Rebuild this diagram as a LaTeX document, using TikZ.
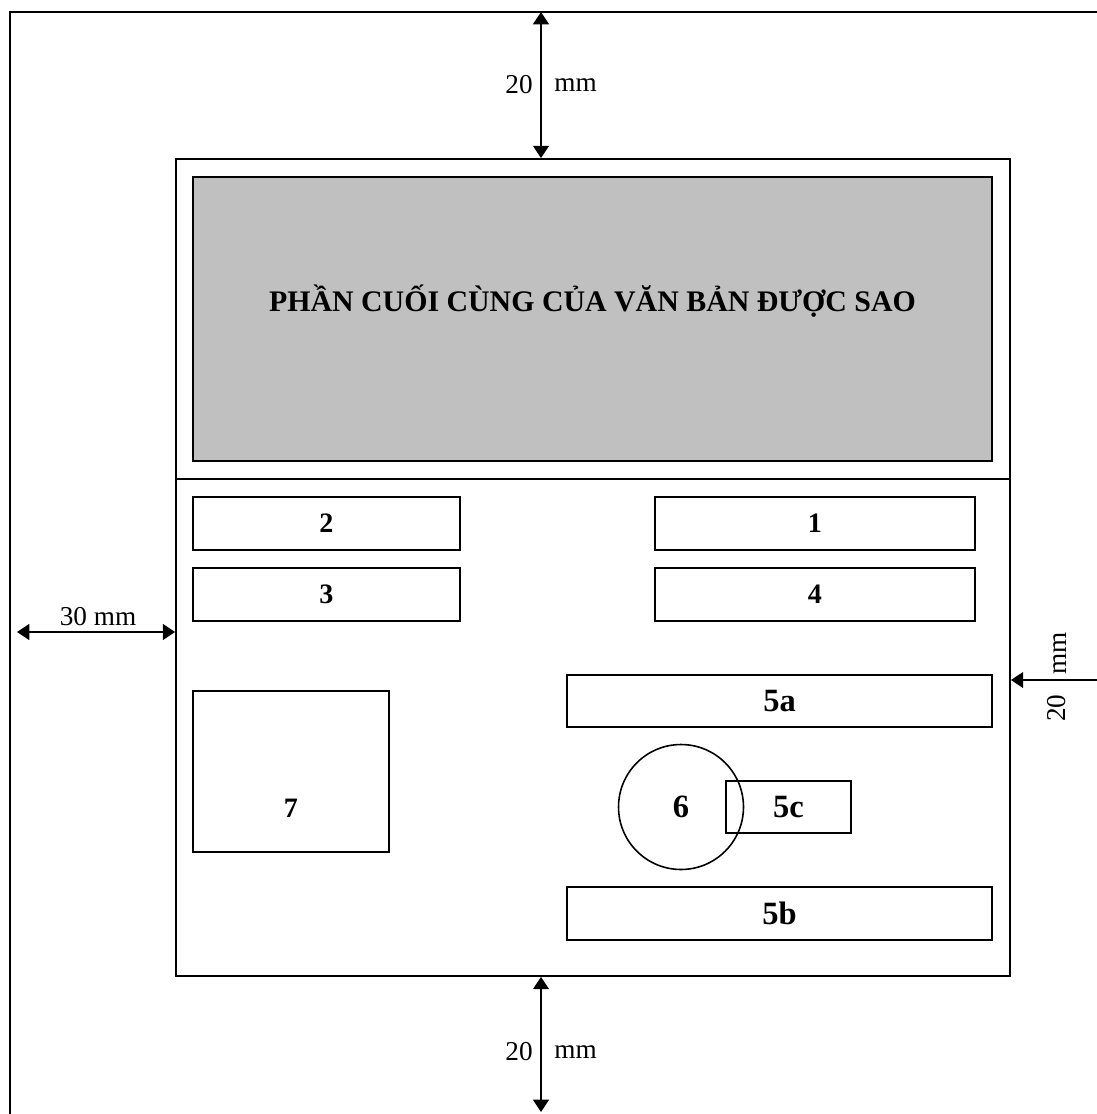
\documentclass[tikz,border=0pt]{standalone}
\usepackage{fontspec}
\setmainfont{Liberation Serif}
\usetikzlibrary{arrows.meta}

\begin{document}
\begin{tikzpicture}[
    x=0.02cm, y=-0.02cm,
    every node/.style={align=center},
    frame/.style={draw, line width=1.1pt},
    part/.style={rectangle, draw, line width=0.9pt, inner sep=0pt, font=\fontsize{16}{18}\selectfont\bfseries},
    bigpart/.style={part, font=\fontsize{18.5}{20}\selectfont\bfseries},
    seal/.style={circle, draw, line width=0.9pt, inner sep=0pt, minimum size=2.5cm, font=\fontsize{18.5}{20}\selectfont\bfseries},
    dim/.style={{Triangle[width=9pt,length=7pt]}-{Triangle[width=9pt,length=7pt]}, line width=1pt},
    dimlabel/.style={inner sep=0pt, font=\fontsize{15.5}{17}\selectfont}
]
    \useasboundingbox (0,0) rectangle (1097,1114);

    % Paper edge
    \draw[frame] (10,1114) -- (10,12) -- (1097,12);

    % Page area
    \node[rectangle, draw, line width=1.1pt, minimum width=16.68cm, minimum height=16.34cm] (page) at (593,567.5) {};
    \node[rectangle, draw, line width=0.9pt, fill={rgb,255:red,192;green,192;blue,192}, minimum width=15.98cm, minimum height=5.68cm] (endpart) at (592.5,319) {};
    \node[inner sep=0pt, font=\fontsize{17}{19}\selectfont\bfseries] (endtitle) at ([yshift=0.36cm]endpart.center) {PHẦN CUỐI CÙNG CỦA VĂN BẢN ĐƯỢC SAO};
    \coordinate (split) at (0,479);
    \draw[frame] (page.west |- split) -- (page.east |- split);

    % Left column
    \node[part, minimum width=5.34cm, minimum height=1.06cm] (box2) at (326.5,523.5) {2};
    \node[part, minimum width=5.34cm, minimum height=1.06cm] (box3) at (326.5,594.5) {3};
    \node[part, minimum width=3.92cm, minimum height=3.22cm] (box7) at (291,771.5) {};
    \node[inner sep=0pt, font=\fontsize{16}{18}\selectfont\bfseries] (label7) at ([yshift=-0.74cm]box7.center) {7};

    % Right column
    \node[part, minimum width=6.4cm, minimum height=1.06cm] (box1) at (815,523.5) {1};
    \node[part, minimum width=6.4cm, minimum height=1.06cm] (box4) at (815,594.5) {4};
    \node[bigpart, minimum width=8.5cm, minimum height=1.04cm] (box5a) at (779.5,701) {5a};
    \node[bigpart, minimum width=2.5cm, minimum height=1.04cm] (box5c) at (788.5,807) {5c};
    \node[seal] (seal6) at (681,807) {6};
    \node[bigpart, minimum width=8.5cm, minimum height=1.06cm] (box5b) at (779.5,913.5) {5b};

    % Margins
    \coordinate (topedge) at (541,12);
    \coordinate (bottomedge) at (541,1112);
    \coordinate (leftedge) at (10,632);
    \coordinate (rightedge) at (1097,680);
    \draw[dim] (topedge) -- (topedge |- page.north);
    \draw[dim] (page.south -| bottomedge) -- (bottomedge);
    \draw[dim, shorten <=0.14cm] (leftedge) -- (leftedge -| page.west);
    \draw[-{Triangle[width=9pt,length=7pt]}, line width=1pt] (rightedge) -- (rightedge -| page.east);

    \node[dimlabel, anchor=east] (topval) at (533,85) {20};
    \node[dimlabel, anchor=west] (topunit) at (554,85) {mm};
    \node[dimlabel, anchor=east] (bottomval) at (533,1052) {20};
    \node[dimlabel, anchor=west] (bottomunit) at (554,1052) {mm};
    \node[dimlabel] (leftval) at (98,617) {30 mm};
    \node[dimlabel, rotate=90] (rightval) at (1057,708) {20};
    \node[dimlabel, rotate=90] (rightunit) at (1060,653) {mm};
\end{tikzpicture}
\end{document}
